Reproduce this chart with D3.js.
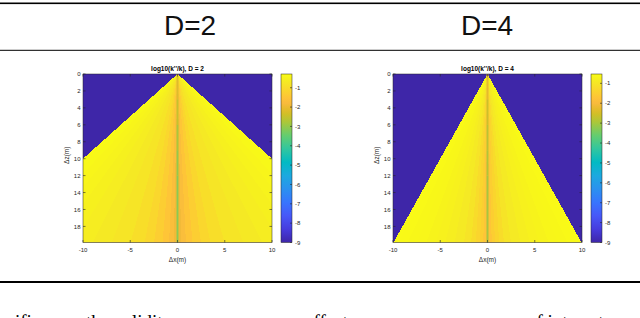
<!DOCTYPE html>
<html>
<head>
<meta charset="utf-8">
<script src="https://cdn.jsdelivr.net/npm/d3@7/dist/d3.min.js"></script>
<style>
  body { margin: 0; background: #fff; }
  svg { display: block; }
  text { font-family: "Liberation Sans", Arial, sans-serif; }
</style>
</head>
<body>
<svg id="fig" width="640" height="318"></svg>
<script>
// ---- data ----
var headers = ["D=2", "D=4"]
var titles = ["log10(k''/k), D = 2", "log10(k''/k), D = 4"]
var coneSlope = [1, 0.5]            // cone half-width per metre of depth
var xDomain = [-10, 10]
var zDomain = [0, 19.9]
var xTicks = [-10, -5, 0, 5, 10]
var zTicks = [0, 2, 4, 6, 8, 10, 12, 14, 16, 18]
var cbTicks = [-1, -2, -3, -4, -5, -6, -7, -8, -9]
var cLimits = [[-9, -0.29], [-9, -0.53]]

// value across the cone, by |x| / cone half-width
var profileEdges = [0, 0.02, 0.045, 0.08, 0.125, 0.175, 0.25, 0.35, 0.45, 0.55, 0.65, 0.75, 0.85, 0.95, 1.0]
var profileD2 = [-1.9, -1.7, -1.5, -1.3, -1.1, -0.95, -0.8, -0.7, -0.62, -0.55, -0.48, -0.42, -0.37, -0.33]
var profileD4 = [-1.9, -1.7, -1.5, -1.35, -1.2, -1.05, -0.92, -0.82, -0.75, -0.7, -0.65, -0.61, -0.58, -0.56]
var profiles = [profileD2, profileD4]

// thin line right under the source (x = 0)
var stripeHalfWidth = 0.1
var stripeEdges = [0, 3, 6, 9, 12, 19.9]
var stripeD2 = [-2.2, -2.5, -2.8, -3.0, -3.1]
var stripeD4 = [-2.3, -2.6, -2.8, -2.9, -3.0]
var stripes = [stripeD2, stripeD4]

// parula colormap (index out of 64, rgb)
var parulaIdx = [1, 6, 11, 16, 21, 26, 31, 36, 41, 46, 49, 51, 53, 55, 58, 61, 64]
var parulaRgb = [
    [0.2422, 0.1504, 0.6603], [0.2751, 0.2342, 0.8710], [0.2795, 0.3447, 0.9717],
    [0.2206, 0.4603, 0.9973], [0.1687, 0.5703, 0.9359], [0.1113, 0.6635, 0.8763],
    [0.0067, 0.7312, 0.7660], [0.1938, 0.7758, 0.6251], [0.3909, 0.8029, 0.4354],
    [0.6720, 0.7793, 0.2227], [0.8203, 0.7498, 0.1535], [0.9035, 0.7330, 0.1774],
    [0.9728, 0.7298, 0.2394], [0.9970, 0.7659, 0.2199], [0.9786, 0.8386, 0.1766],
    [0.9597, 0.9135, 0.1423], [0.9769, 0.9839, 0.0805]
]
var parulaPos = parulaIdx.map(function (i) { return (i - 1) / 63 })
var parulaCol = parulaRgb.map(function (c) {
    return d3.rgb(c[0] * 255, c[1] * 255, c[2] * 255).formatHex()
})

// ---- layout ----
var svg = d3.select('#fig')
var ink = '#262626'
var plotTop = 74, plotBottom = 242.5
var plotLeft = [83, 393], plotWidth = 189
var cbLeft = [281, 591], cbWidth = 11
var colCenter = [190, 487]

// table rules
svg.append('rect').attr('x', 0).attr('y', 2.5).attr('width', 640).attr('height', 1.6).attr('fill', '#000')
svg.append('rect').attr('x', 0).attr('y', 49.8).attr('width', 640).attr('height', 1).attr('fill', '#000')
svg.append('rect').attr('x', 0).attr('y', 281).attr('width', 640).attr('height', 2).attr('fill', '#000')

svg.selectAll('text.header')
    .data(headers)
    .enter().append('text')
    .attr('class', 'header')
    .attr('x', function (d, i) { return colCenter[i] })
    .attr('y', 35)
    .attr('text-anchor', 'middle')
    .attr('font-size', 28)
    .attr('fill', '#111')
    .text(function (d) { return d })

var defs = svg.append('defs')

headers.forEach(function (h, p) {
    var x = d3.scaleLinear().domain(xDomain).range([plotLeft[p], plotLeft[p] + plotWidth])
    var z = d3.scaleLinear().domain(zDomain).range([plotTop, plotBottom])
    var lo = cLimits[p][0], hi = cLimits[p][1]
    var color = d3.scaleLinear()
        .domain(parulaPos.map(function (t) { return lo + t * (hi - lo) }))
        .range(parulaCol)
        .interpolate(d3.interpolateRgb)
        .clamp(true)

    defs.append('clipPath').attr('id', 'clip' + p)
        .append('rect')
        .attr('x', x(xDomain[0])).attr('y', z(zDomain[0]))
        .attr('width', x(xDomain[1]) - x(xDomain[0]))
        .attr('height', z(zDomain[1]) - z(zDomain[0]))

    var g = svg.append('g').attr('clip-path', 'url(#clip' + p + ')')

    // outside the cone: lowest colour
    g.append('rect')
        .attr('x', x(xDomain[0])).attr('y', z(zDomain[0]))
        .attr('width', x(xDomain[1]) - x(xDomain[0]))
        .attr('height', z(zDomain[1]) - z(zDomain[0]))
        .attr('fill', color(lo))

    // wedges inside the cone, both sides of x = 0
    var wedges = []
    profiles[p].forEach(function (v, k) {
        [-1, 1].forEach(function (s) {
            wedges.push({ s: s, u0: profileEdges[k], u1: profileEdges[k + 1], v: v })
        })
    })
    var zFar = zDomain[1]
    g.selectAll('path.wedge')
        .data(wedges)
        .enter().append('path')
        .attr('class', 'wedge')
        .attr('d', function (d) {
            var c = coneSlope[p]
            return 'M' + x(0) + ',' + z(0) +
                'L' + x(d.s * d.u0 * c * zFar) + ',' + z(zFar) +
                'L' + x(d.s * d.u1 * c * zFar) + ',' + z(zFar) + 'Z'
        })
        .attr('fill', function (d) { return color(d.v) })
        .attr('shape-rendering', 'crispEdges')

    // centre line
    g.selectAll('rect.stripe')
        .data(stripes[p])
        .enter().append('rect')
        .attr('class', 'stripe')
        .attr('x', x(-stripeHalfWidth))
        .attr('width', x(stripeHalfWidth) - x(-stripeHalfWidth))
        .attr('y', function (d, k) { return z(stripeEdges[k]) })
        .attr('height', function (d, k) { return z(stripeEdges[k + 1]) - z(stripeEdges[k]) })
        .attr('fill', function (d) { return color(d) })

    // axes box and inward ticks
    var x0 = x(xDomain[0]), x1 = x(xDomain[1]), y0 = z(zDomain[0]), y1 = z(zDomain[1])
    svg.append('rect')
        .attr('x', x0).attr('y', y0).attr('width', x1 - x0).attr('height', y1 - y0)
        .attr('fill', 'none').attr('stroke', ink).attr('stroke-width', 0.5)

    var tl = 2.5
    xTicks.forEach(function (t) {
        svg.append('line').attr('x1', x(t)).attr('x2', x(t)).attr('y1', y1).attr('y2', y1 - tl)
            .attr('stroke', ink).attr('stroke-width', 0.6)
        svg.append('line').attr('x1', x(t)).attr('x2', x(t)).attr('y1', y0).attr('y2', y0 + tl)
            .attr('stroke', ink).attr('stroke-width', 0.6)
    })
    zTicks.forEach(function (t) {
        svg.append('line').attr('x1', x0).attr('x2', x0 + tl).attr('y1', z(t)).attr('y2', z(t))
            .attr('stroke', ink).attr('stroke-width', 0.6)
        svg.append('line').attr('x1', x1).attr('x2', x1 - tl).attr('y1', z(t)).attr('y2', z(t))
            .attr('stroke', ink).attr('stroke-width', 0.6)
    })

    svg.selectAll(null)
        .data(xTicks)
        .enter().append('text')
        .attr('x', function (d) { return x(d) })
        .attr('y', 252)
        .attr('text-anchor', 'middle')
        .attr('font-size', 6)
        .attr('fill', ink)
        .text(function (d) { return String(d) })

    svg.selectAll(null)
        .data(zTicks)
        .enter().append('text')
        .attr('x', x0 - 2.5)
        .attr('y', function (d) { return z(d) })
        .attr('dy', '0.35em')
        .attr('text-anchor', 'end')
        .attr('font-size', 6)
        .attr('fill', ink)
        .text(function (d) { return String(d) })

    svg.append('text')
        .attr('x', (x0 + x1) / 2).attr('y', 262)
        .attr('text-anchor', 'middle').attr('font-size', 6.5).attr('fill', ink)
        .text('\u0394x(m)')

    svg.append('text')
        .attr('transform', 'translate(' + (x0 - 14.5) + ',' + ((y0 + y1) / 2 - 3) + ') rotate(-90)')
        .attr('text-anchor', 'middle').attr('font-size', 6.5).attr('fill', ink)
        .text('\u0394z(m)')

    svg.append('text')
        .attr('x', (x0 + x1) / 2).attr('y', 71)
        .attr('text-anchor', 'middle').attr('font-size', 6.5).attr('font-weight', 'bold').attr('fill', '#000')
        .text(titles[p])

    // colorbar
    var cb = d3.scaleLinear().domain([lo, hi]).range([plotBottom, plotTop])
    var grad = defs.append('linearGradient').attr('id', 'cbgrad' + p)
        .attr('x1', 0).attr('y1', 1).attr('x2', 0).attr('y2', 0)
    parulaPos.forEach(function (t, k) {
        grad.append('stop').attr('offset', t).attr('stop-color', parulaCol[k])
    })
    svg.append('rect')
        .attr('x', cbLeft[p]).attr('y', cb(hi))
        .attr('width', cbWidth).attr('height', cb(lo) - cb(hi))
        .attr('fill', 'url(#cbgrad' + p + ')')
        .attr('stroke', ink).attr('stroke-width', 0.5)

    cbTicks.forEach(function (t) {
        svg.append('line')
            .attr('x1', cbLeft[p] + cbWidth).attr('x2', cbLeft[p] + cbWidth - 2)
            .attr('y1', cb(t)).attr('y2', cb(t))
            .attr('stroke', ink).attr('stroke-width', 0.6)
    })
    svg.selectAll(null)
        .data(cbTicks)
        .enter().append('text')
        .attr('x', cbLeft[p] + cbWidth + 3)
        .attr('y', function (d) { return cb(d) })
        .attr('dy', '0.35em')
        .attr('font-size', 6)
        .attr('fill', ink)
        .text(function (d) { return String(d) })
})

// caption line cut off by the bottom of the frame, as in the source
var caption = svg.append('g').attr('fill', '#000')
var captionParts = [[15, 'ific'], [86, 'the validity'], [305, 'effect'], [527, 'of interest']]
captionParts.forEach(function (c) {
    caption.append('text')
        .attr('x', c[0]).attr('y', 328)
        .style('font-family', '"Liberation Serif", "DejaVu Serif", serif')
        .attr('font-size', 19)
        .text(c[1])
})
</script>
</body>
</html>
